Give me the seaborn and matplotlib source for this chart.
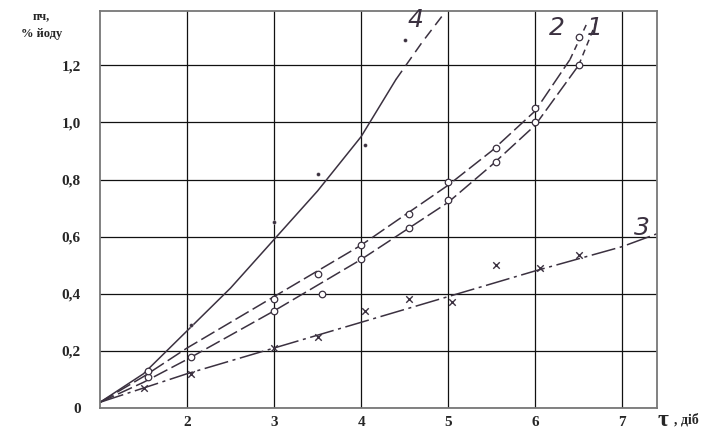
import pandas as pd
import seaborn as sns
import matplotlib.pyplot as plt

# fitted curves (tau, days -> PV, % iodine)
curve1_x = [1.0, 1.5, 2.0, 3.0, 4.0, 5.0, 5.5, 6.0, 6.5]
curve1_y = [0.02, 0.09, 0.17, 0.34, 0.52, 0.72, 0.85, 0.99, 1.20]
curve1_tail_x = [6.5, 6.7]
curve1_tail_y = [1.20, 1.35]

curve2_x = [1.0, 1.5, 2.0, 3.0, 4.0, 5.0, 5.5, 6.0, 6.4]
curve2_y = [0.02, 0.11, 0.21, 0.39, 0.57, 0.78, 0.90, 1.04, 1.22]
curve2_tail_x = [6.4, 6.6]
curve2_tail_y = [1.22, 1.35]

curve3_x = [1.0, 2.0, 3.0, 4.0, 5.0, 6.0, 7.0, 7.4]
curve3_y = [0.02, 0.12, 0.21, 0.30, 0.39, 0.48, 0.565, 0.61]

curve4_x = [1.0, 1.5, 2.0, 2.5, 3.0, 3.5, 4.0, 4.4]
curve4_y = [0.02, 0.12, 0.27, 0.42, 0.59, 0.76, 0.95, 1.15]
curve4_tail_x = [4.4, 4.7, 4.95]
curve4_tail_y = [1.15, 1.28, 1.38]

# measured points
pts1_x = [1.55, 2.05, 3.0, 3.55, 4.0, 4.55, 5.0, 5.55, 6.0, 6.5]
pts1_y = [0.11, 0.18, 0.34, 0.40, 0.52, 0.63, 0.73, 0.86, 1.00, 1.20]
pts2_x = [1.55, 3.0, 3.5, 4.0, 4.55, 5.0, 5.55, 6.0, 6.5]
pts2_y = [0.13, 0.38, 0.47, 0.57, 0.68, 0.79, 0.91, 1.05, 1.30]
pts3_x = [1.5, 2.05, 3.0, 3.5, 4.05, 4.55, 5.05, 5.55, 6.05, 6.5]
pts3_y = [0.07, 0.12, 0.21, 0.25, 0.34, 0.38, 0.37, 0.50, 0.49, 0.535]
pts4_x = [2.05, 3.0, 3.5, 4.05, 4.5]
pts4_y = [0.29, 0.65, 0.82, 0.92, 1.29]

x_ticks = [2, 3, 4, 5, 6, 7]
y_ticks = [0, 0.2, 0.4, 0.6, 0.8, 1.0, 1.2]
y_labels = ['0', '0,2', '0,4', '0,6', '0,8', '1,0', '1,2']

ink = '#3b3140'

sns.set_style('white')
plt.rcParams['font.family'] = ['Liberation Serif', 'DejaVu Serif']

fig = plt.figure(figsize=(7.11, 4.32), dpi=100)
ax = fig.add_axes([100 / 711, 24 / 432, 557 / 711, 397 / 432])


def line(x, y, **kw):
    sns.lineplot(data=pd.DataFrame({'x': x, 'y': y}), x='x', y='y', ax=ax,
                 color=ink, lw=1.1, sort=False, **kw)


line(curve1_x, curve1_y, linestyle=(0, (10, 3)))
line(curve1_tail_x, curve1_tail_y, linestyle=(0, (4, 3)))
line(curve2_x, curve2_y, linestyle=(0, (10, 3)))
line(curve2_tail_x, curve2_tail_y, linestyle=(0, (4, 3)))
line(curve3_x, curve3_y, linestyle=(0, (16, 3, 2, 3)))
line(curve4_x, curve4_y)
line(curve4_tail_x, curve4_tail_y, linestyle=(0, (7, 4)))

sns.scatterplot(x=pts1_x, y=pts1_y, ax=ax, marker='o', s=22,
                facecolor='white', edgecolor=ink, linewidth=0.9, zorder=5)
sns.scatterplot(x=pts2_x, y=pts2_y, ax=ax, marker='o', s=22,
                facecolor='white', edgecolor=ink, linewidth=0.9, zorder=5)
sns.scatterplot(x=pts3_x, y=pts3_y, ax=ax, marker='x', s=22,
                color=ink, linewidth=1.0, zorder=5)
sns.scatterplot(x=pts4_x, y=pts4_y, ax=ax, marker='o', s=8,
                color=ink, zorder=5)

# curve numbers, hand-written style
for txt, tx, ty in [('4', 4.62, 1.36), ('2', 6.25, 1.33), ('1', 6.69, 1.33), ('3', 7.23, 0.63)]:
    ax.text(tx, ty, txt, fontsize=18, color=ink, family='DejaVu Sans',
            style='italic', ha='center', va='center', fontweight='light')

ax.set_xlim(1, 7.4)
ax.set_ylim(0, 1.39)
ax.set_xticks(x_ticks)
ax.set_xticklabels([str(t) for t in x_ticks], fontsize=11, fontweight='bold')
ax.set_yticks(y_ticks)
ax.set_yticklabels(y_labels, fontsize=11, fontweight='bold')
ax.tick_params(axis='y', length=0, pad=14)
ax.tick_params(axis='x', length=0, pad=6)
ax.grid(True, color='#111111', lw=0.9)
ax.set_axisbelow(True)
for s in ax.spines.values():
    s.set_color('#777777')
    s.set_linewidth(1.3)
ax.set_xlabel('')
ax.set_ylabel('')

fig.text(0.058, 0.955, 'пч,', fontsize=9, fontweight='bold', ha='center')
fig.text(0.058, 0.915, '% йоду', fontsize=9, fontweight='bold', ha='center')
fig.text(0.933, 0.014, 'τ', fontsize=17, fontweight='bold', ha='center')
fig.text(0.948, 0.02, ', діб', fontsize=10, fontweight='bold', ha='left')

fig.savefig('out.png', dpi=100)
